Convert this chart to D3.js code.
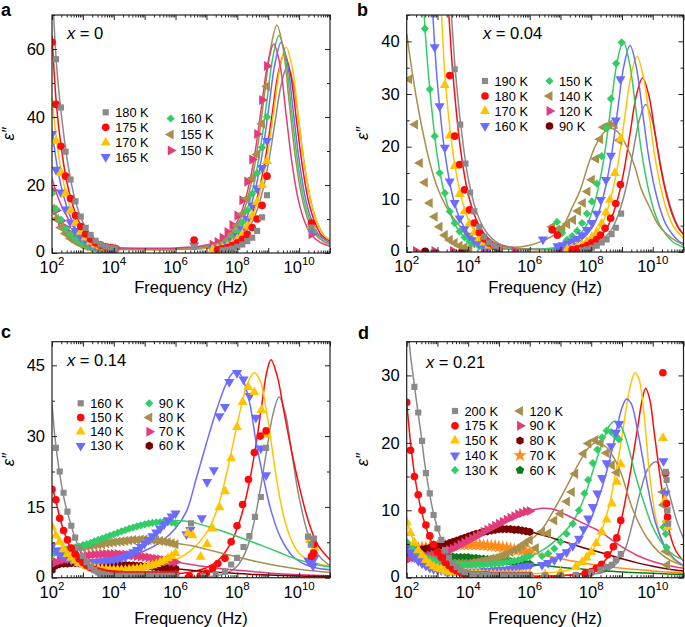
<!DOCTYPE html>
<html><head><meta charset="utf-8">
<script src="https://cdn.jsdelivr.net/npm/d3@7"></script>
<style>
body{margin:0;background:#fff;}
svg text{font-family:"Liberation Sans",Arial,Helvetica,sans-serif;fill:#000;}
</style></head>
<body>
<svg id="chart" width="685" height="627"></svg>
<script>
// ======================= DATA (frequencies are log10(f / Hz)) =======================
const xTickExps = [2, 4, 6, 8, 10];

// ---------- panel a : x = 0 ----------
const aLabels = ["180 K","175 K","170 K","165 K","160 K","155 K","150 K"];
const aYTicks = [0, 20, 40, 60];
const aFreq = [2.0,2.13,2.29,2.44,2.6,2.76,2.93,3.09,3.25,3.41,3.57,3.73,3.9,4.05, 6.6,
               7.2,7.36,7.52,7.68,7.84,8.0,8.16,8.32,8.48,8.64,8.8,8.96, 10.4];
const aPoints = [
  [null,57,42.8,29.8,21.6,15.2,10.7,7.4,5.3,3.6,2.5,1.9,1.5,1.3, 1.8, null,null,0.8,1.0,1.3,1.8,2.5,3.5,4.5,6.5,10.5,17, 7.5],
  [62,43.7,31.4,22.6,16,11,7.8,5.6,4.1,3.0,2.3,1.8,1.5,1.3, 3.8, null,0.9,1.2,1.6,2.2,3.0,4.0,5.5,7.5,10,14,22.6, 8.8],
  [44,33,23.6,17.5,12.5,8.8,6.2,4.5,3.3,2.5,2.0,1.6,1.4,1.2, null, 1.0,1.2,1.5,2.0,2.8,4.0,5.5,8.0,11,15,20,27, 8],
  [35,24.5,17.8,12.8,9.0,6.5,4.7,3.5,2.7,2.1,1.7,1.4,1.2,1.1, 2.2, 1.3,1.5,1.9,2.5,3.5,5.0,7.0,10,14,19,25,33, 7],
  [17.5,13,9.8,7.3,5.5,4.1,3.1,2.4,1.9,1.6,1.3,1.1,1.0,0.9, null, 1.3,1.6,2.2,3.0,4.3,6.2,9,12.5,17.5,23.5,31,40, 6.5],
  [13,10,7.5,5.7,4.3,3.3,2.5,1.9,1.5,1.2,1.0,0.9,0.8,0.8, null, 1.4,1.9,2.7,3.8,5.5,8,11.5,16,22,29,38,49, 7.5],
  [18.5,12.5,9.5,7.5,5.8,4.5,3.5,2.8,2.3,1.9,1.7,1.5,1.4,1.3, null, 2.4,3.2,4.5,6.2,8.2,11,15.5,21,27.5,35,45,55, 5.5]
];
const aCurves = [
  [[2,80],[2.15,55],[2.3,41],[2.5,27],[2.75,15.5],[3,9],[3.25,5.3],[3.5,3.2],[4,1.6],[5,1.2],[6,1.2],[7.12,1.5],[7.62,2.2],[8.02,3.9],[8.42,8.1],[8.62,12.1],[8.82,18.3],[9.02,27.1],[9.22,38.4],[9.42,49.5],[9.62,55],[9.82,49.5],[10.02,36.3],[10.22,23.1],[10.42,13.8],[10.62,8.3],[10.82,5],[11,3.8]],
  [[2,64],[2.15,43],[2.3,31],[2.5,20],[2.75,12],[3,7],[3.25,4.2],[3.5,2.6],[4,1.4],[5,1.1],[6,1.1],[7.02,1.5],[7.52,2.3],[7.92,4],[8.32,8.4],[8.52,12.6],[8.72,19.1],[8.92,28.5],[9.12,40.4],[9.32,52.7],[9.52,58.5],[9.72,52.7],[9.92,38.6],[10.12,24.6],[10.32,14.6],[10.52,8.8],[10.72,5.3],[11,3.5]],
  [[2,46],[2.15,33],[2.3,24],[2.5,16],[2.75,9.5],[3,5.5],[3.25,3.4],[3.5,2.2],[4,1.3],[5,1.0],[6,1.0],[7.08,1.5],[7.58,2.3],[7.98,4.1],[8.38,8.6],[8.58,13],[8.78,19.8],[8.98,29.4],[9.18,41.7],[9.38,54.5],[9.58,60.5],[9.78,54.5],[9.98,39.9],[10.18,25.4],[10.38,15.1],[10.58,9.1],[10.78,5.4],[11,3.8]],
  [[2,36],[2.15,26.5],[2.3,19.5],[2.5,13],[2.75,7.5],[3,4.5],[3.25,2.9],[3.5,2],[4,1.3],[5,1.1],[6,1.1],[6.92,1.6],[7.42,2.4],[7.82,4.3],[8.22,8.8],[8.42,13.3],[8.62,20.2],[8.82,29.9],[9.02,42.8],[9.22,55.8],[9.42,62],[9.62,55.8],[9.82,40.9],[10.02,26],[10.22,15.5],[10.42,9.3],[10.62,5.6],[11,3]],
  [[2,14],[2.15,11],[2.3,8.5],[2.5,6],[2.75,3.8],[3,2.5],[3.25,1.8],[3.5,1.4],[4,1.1],[5,1],[6,1.1],[6.85,1.6],[7.35,2.5],[7.75,4.4],[8.15,9.1],[8.35,13.7],[8.55,20.8],[8.75,31],[8.95,44.2],[9.15,57.6],[9.35,64],[9.55,57.6],[9.75,42.2],[9.95,26.9],[10.15,16],[10.35,9.6],[10.55,5.8],[10.85,3.2],[11,2.8]],
  [[2,13],[2.15,10.5],[2.3,8.5],[2.5,6.5],[2.75,4.4],[3,3],[3.25,2.2],[3.5,1.7],[4,1.2],[5,1],[6,1.1],[6.78,1.7],[7.28,2.6],[7.68,4.6],[8.08,9.6],[8.28,14.3],[8.48,21.8],[8.68,32.5],[8.88,46.7],[9.08,60.3],[9.28,67],[9.48,60.3],[9.68,44.2],[9.88,28.1],[10.08,16.8],[10.28,10],[10.48,6],[10.78,3.4],[11,2.6]],
  [[2,22],[2.15,17.5],[2.3,14],[2.5,10.5],[2.75,7],[3,4.5],[3.25,3],[3.5,2.2],[4,1.6],[5,1.4],[6,1.5],[6.68,1.9],[7.18,2.7],[7.58,4.4],[7.98,8.9],[8.18,13.3],[8.38,20.1],[8.58,29.9],[8.78,42.9],[8.98,55.4],[9.18,61.5],[9.38,55.4],[9.58,40.6],[9.78,25.8],[9.98,15.4],[10.18,9.2],[10.38,5.5],[10.68,3.1],[11,2]]
];

// ---------- panel b : x = 0.04 ----------
const bLabels = ["190 K","180 K","170 K","160 K","150 K","140 K","120 K","90 K"];
const bYTicks = [0, 10, 20, 30, 40];
const bPoints = [
  [[3.56,34.7],[3.74,24.2],[3.91,16.8],[4.06,11.3],[4.2,7.7],[4.36,4.8],[4.52,2.9],[4.68,1.8],[4.84,1.2],[5.0,0.8],[7.7,0.3],[7.86,0.5],[8.02,0.8],[8.18,1.2],[8.34,1.8],[8.5,2.4],[8.66,3.4],[8.8,4.6],[8.97,7.3]],
  [[3.4,33.5],[3.56,22],[3.72,16.6],[3.88,11.8],[4.04,8],[4.2,5.5],[4.36,3.7],[4.52,2.5],[4.68,1.7],[4.84,1.1],[5.0,0.7],[6.73,4.2],[6.9,3.2],[7.38,0.4],[7.54,0.6],[7.7,0.8],[7.86,1.2],[8.02,1.8],[8.18,2.4],[8.3,3.2],[8.45,4.5],[8.63,6.4],[8.8,9.2],[8.95,12.8]],
  [[3.24,31.7],[3.4,22.1],[3.56,16.3],[3.72,11],[3.88,7.7],[4.04,5.4],[4.2,3.7],[4.36,2.6],[4.52,1.8],[4.68,1.2],[4.84,0.9],[7.22,0.5],[7.38,0.7],[7.54,1.0],[7.7,1.4],[7.86,2.0],[8.02,2.8],[8.18,3.8],[8.34,5.4],[8.48,7.5],[8.61,9.9],[8.77,15],[8.95,21.5]],
  [[2.91,38.9],[3.07,27.7],[3.24,19.8],[3.4,13.4],[3.56,9.3],[3.72,6.4],[3.88,4.4],[4.04,3.1],[4.2,2.2],[4.36,1.6],[4.52,1.1],[4.68,0.8],[6.43,2.4],[6.9,1.1],[7.06,1.3],[7.22,1.6],[7.38,2.0],[7.54,2.5],[7.7,3.2],[7.86,4.2],[8.02,5.5],[8.18,7.3],[8.31,9.9],[8.48,13.7],[8.64,18.3],[8.8,25],[8.95,32.8]],
  [[2.59,42.4],[2.75,30.9],[2.91,22],[3.07,15],[3.24,11.2],[3.4,7.7],[3.56,5.5],[3.72,3.9],[3.88,2.8],[4.04,2],[4.2,1.5],[4.36,1.1],[4.52,0.8],[6.89,5.7],[7.05,3.6],[7.21,2.3],[7.38,3.0],[7.54,4.0],[7.7,5.5],[7.86,7.3],[8.02,9.6],[8.18,13],[8.34,18.2],[8.5,23.5],[8.64,29.1],[8.81,35.8],[8.99,39.8]],
  [[2.08,32.8],[2.27,24.2],[2.43,16.9],[2.59,13.2],[2.75,9.3],[2.91,6.7],[3.07,4.8],[3.24,3.2],[3.4,2.3],[3.56,1.7],[3.72,1.2],[3.88,0.9],[4.04,0.7],[6.73,4.8],[6.89,4.2],[7.06,4.5],[7.22,5.3],[7.41,6.1],[7.57,7.8],[7.73,9.3],[7.88,11.5],[8.02,13.7],[8.16,17.7],[8.29,21.4],[8.4,23.7],[8.59,24.2],[8.76,24.2],[8.92,21.2]],
  [[2.3,0.2],[2.9,0.2],[3.5,0.2],[4.5,0.2],[5.5,0.2],[7.0,0.3],[7.7,0.2]],
  [[2.6,0.12],[3.8,0.12],[5.0,0.12],[7.3,0.12]]
];
const bCurves = [
  [[3.4,50],[3.5,41],[3.56,36],[3.75,24.5],[4,14],[4.25,8],[4.5,4.6],[4.75,2.7],[5,1.6],[5.5,0.8],[6,0.5],[6.5,0.45],[7.27,0.5],[7.77,0.7],[8.17,1.5],[8.57,3.5],[8.77,5.5],[8.97,8.7],[9.17,13.2],[9.37,19.3],[9.57,25.2],[9.77,28],[9.97,25.2],[10.17,19.3],[10.37,13.2],[10.57,8.7],[10.77,5.5],[11,3.3]],
  [[3.2,57],[3.37,45],[3.5,34],[3.75,19.5],[4,11],[4.25,6.3],[4.5,3.6],[4.75,2.1],[5,1.3],[5.5,0.7],[6,0.5],[6.5,0.5],[7.17,0.5],[7.67,0.8],[8.07,1.8],[8.47,4.2],[8.67,6.6],[8.87,10.3],[9.07,15.6],[9.27,22.8],[9.47,29.8],[9.67,33.1],[9.87,29.8],[10.07,22.8],[10.27,15.6],[10.47,10.3],[10.67,6.6],[10.87,4.2],[11,3.4]],
  [[3,55],[3.13,45],[3.25,33],[3.5,19],[3.75,11],[4,6.2],[4.25,3.6],[4.5,2.1],[4.75,1.3],[5.25,0.7],[5.75,0.5],[6.25,0.5],[6.99,0.55],[7.49,0.9],[7.89,2],[8.29,4.7],[8.49,7.3],[8.69,11.5],[8.89,17.4],[9.09,25.6],[9.29,33.4],[9.49,37.1],[9.69,33.4],[9.89,25.6],[10.09,17.4],[10.29,11.5],[10.49,7.3],[10.69,4.7],[11,2.6]],
  [[2.75,55],[2.85,45],[3,32],[3.25,18.5],[3.5,10.5],[3.75,6],[4,3.5],[4.25,2.1],[4.5,1.3],[5,0.7],[5.5,0.5],[6,0.5],[6.76,0.6],[7.26,1.0],[7.66,2.2],[8.06,4.9],[8.26,7.8],[8.46,12.2],[8.66,18.4],[8.86,27],[9.06,35.3],[9.26,39.2],[9.46,35.3],[9.66,27],[9.86,18.4],[10.06,12.2],[10.26,7.8],[10.46,4.9],[10.86,2],[11,1.6]],
  [[2.5,53],[2.6,42],[2.75,31],[3,18],[3.25,10.5],[3.5,6.1],[3.75,3.6],[4,2.2],[4.5,1.0],[5,0.6],[5.5,0.5],[6,0.5],[6.54,0.64],[7.04,1.1],[7.44,2.2],[7.84,5],[8.04,7.9],[8.24,12.4],[8.44,18.8],[8.64,27.6],[8.84,36],[9.04,40],[9.24,36],[9.44,27.6],[9.64,18.8],[9.84,12.4],[10.04,7.9],[10.24,5],[10.64,2],[11,0.9]],
  [[2,41.4],[2.25,31.5],[2.5,23.5],[2.75,17],[3,12.2],[3.25,9],[3.5,6.6],[3.75,4.8],[4,3.4],[4.25,2.5],[4.5,1.8],[5,1.1],[5.5,0.9],[6,1.3],[6.5,2.3],[7,4.2],[7.4,8.7],[7.64,11.75],[7.9,16.5],[8.14,20.2],[8.4,22.6],[8.64,23.5],[8.9,22.6],[9.14,20.2],[9.4,16.5],[9.64,11.75],[9.9,8.5],[10.2,5],[10.6,2.7],[11,1.3]],
  [],
  []
];

// ---------- panel c : x = 0.14 ----------
const cLabels = ["160 K","150 K","140 K","130 K","90 K","80 K","70 K","60 K"];
const cYTicks = [0, 15, 30, 45];
const cDenseFreq = [2,2.125,2.25,2.375,2.5,2.625,2.75,2.875,3,3.125,3.25,3.375,3.5,3.625,3.75,3.875,4,4.125,4.25,4.375,4.5,4.625,4.75,4.875,5,5.125,5.25,5.375,5.5,5.625,5.75,5.875,6];
const cDense = [
  [null,27.5,22.5,18,14,11,8.5,6.3,4.6,3.3,2.3,1.6,1.1,0.8,0.6,0.5,0.4,0.4,0.4,0.4,0.4,0.4,0.4,0.4,0.4,0.4,0.4,0.4,0.4,0.4,0.4,0.4,0.4],
  [18.7,16.5,12.6,10,8,6.3,5,4,3.2,2.6,2.1,1.7,1.4,1.2,1.0,0.9,0.8,0.7,0.7,0.6,0.6,0.6,0.6,0.6,0.6,0.6,0.6,0.6,0.6,0.7,0.7,0.7,0.8],
  [10.8,8.9,7.6,6.0,5.0,4.2,3.6,3.1,2.7,2.4,2.2,2.0,1.9,1.8,1.7,1.6,1.6,1.6,1.6,1.6,1.7,1.8,1.9,2.0,2.2,2.4,2.6,2.9,3.2,3.6,4.1,4.6,5.2],
  [6.8,5.8,5.0,4.5,4.1,3.8,3.6,3.5,3.4,3.3,3.3,3.3,3.4,3.5,3.6,3.7,3.8,4.0,4.2,4.4,5.0,5.4,5.9,6.5,7.2,8.0,8.8,9.6,10.4,11.3,12.2,13.0,13.6],
  [5.2,5.4,5.6,5.8,6.0,6.2,6.4,6.6,6.9,7.1,7.4,7.7,8.0,8.3,8.6,8.9,9.2,9.5,9.8,10.1,10.4,10.6,10.9,11.1,11.3,11.5,11.6,11.7,11.8,11.9,11.8,11.7,11.5],
  [5.4,5.5,5.6,5.8,5.9,6.0,6.2,6.3,6.4,6.6,6.7,6.9,7.0,7.1,7.3,7.4,7.5,7.6,7.7,7.8,7.9,8.0,8.0,8.1,8.1,8.0,8.0,7.9,7.8,7.7,7.5,7.3,7.1],
  [3.0,3.3,3.6,3.8,4.0,4.2,4.4,4.5,4.6,4.7,4.8,4.9,4.9,5.0,5.0,5.0,5.0,5.0,4.9,4.9,4.8,4.7,4.6,4.5,4.4,4.3,4.1,4.0,3.9,3.7,3.6,3.4,3.3],
  [1.6,2.6,2.9,3.0,3.0,3.1,3.1,3.1,3.1,3.1,3.0,3.0,3.0,2.9,2.9,2.9,2.8,2.8,2.7,2.7,2.6,2.6,2.5,2.5,2.4,2.4,2.3,2.2,2.2,2.1,2.0,2.0,1.9]
];
const cHigh = [
  [[6.5,11.5],[6.9,0.3],[7.3,0.6],[7.6,1.3],[7.8,2.8],[7.99,4.2],[8.2,6.5],[8.39,8.8],[8.57,12.9],[8.76,17.1],[8.93,27.5],[10.29,8.7],[10.38,7.0],[10.48,8.3]],
  [[6.45,0.3],[6.8,0.4],[7.0,1.0],[7.2,2.0],[7.37,3.0],[7.6,4.1],[7.8,7.6],[7.99,11],[8.17,15.5],[8.36,20.8],[8.55,26.5],[8.74,30],[8.93,31.1],[10.4,4.5],[10.47,5.2],[10.48,7.1]],
  [[6.4,9.4],[6.55,9.0],[6.81,4.4],[7.02,7.1],[7.2,10.4],[7.42,14.9],[7.6,18.3],[7.8,25.3],[7.99,31.9],[8.17,37.2],[8.35,40.4],[8.55,39.3],[8.78,35.5],[8.96,30.3],[10.35,8],[10.45,5.5],[10.5,6.3]],
  [[6.35,9.2],[6.48,10.1],[6.85,12.6],[7.02,20.3],[7.24,22.8],[7.42,34.2],[7.6,36.2],[7.74,41.5],[7.99,43.4],[8.2,42],[8.4,38.5],[8.6,33.9],[8.76,27.4],[8.93,21.7],[10.3,3.6],[10.38,3.4],[10.45,2.5],[10.5,4.2]],
  [],[],[],[]
];
const cCurves = [
  [[2,37],[2.1,29.5],[2.25,22],[2.4,16.5],[2.6,11.5],[2.8,7.5],[3,4.5],[3.2,2.5],[3.5,1.0],[4,0.3],[5,0.1],[6,0.1],[7,0.2],[7.6,0.8],[8,2.5],[8.3,6],[8.55,12],[8.75,19],[8.95,27],[9.15,34.5],[9.35,38.3],[9.55,35],[9.75,27],[10,17],[10.3,9],[10.6,5],[11,2.5]],
  [[2,19],[2.1,17],[2.25,12.8],[2.4,9.5],[2.6,6.3],[2.8,4.2],[3,2.8],[3.3,1.6],[3.6,1.0],[4,0.7],[5,0.6],[6,0.8],[6.5,1.2],[7,2.1],[7.4,3.8],[7.8,7.5],[8.1,12.5],[8.35,19],[8.6,28],[8.8,37],[8.95,43.5],[9.09,46.2],[9.3,42.5],[9.5,35.5],[9.75,27],[10,19.5],[10.3,12],[10.6,7],[11,3.8]],
  [[2,11],[2.1,9.5],[2.25,7.5],[2.5,5.3],[2.75,3.8],[3,2.8],[3.5,1.9],[4,1.6],[4.5,1.6],[5,1.9],[5.5,2.6],[6,3.8],[6.5,5.8],[7,9.5],[7.35,14.5],[7.64,21.7],[7.9,29.5],[8.15,37],[8.35,41.5],[8.55,43.4],[8.75,41.5],[8.95,35],[9.1,28.5],[9.25,21.7],[9.5,13],[9.75,8],[10,5.2],[10.5,3.2],[11,2.5]],
  [[2,7],[2.25,5],[2.5,4],[2.75,3.5],[3,3.3],[3.5,3.4],[4,3.8],[4.5,4.5],[5,5.7],[5.5,7.5],[6,10.5],[6.35,14],[6.67,21],[7,28.5],[7.3,35],[7.6,40.5],[7.8,43],[7.96,43.8],[8.15,42.5],[8.4,37],[8.6,29],[8.82,21.9],[9.1,14],[9.4,8.5],[9.8,4.5],[10.2,2.8],[10.6,2],[11,1.7]],
  [[2,5.5],[2.5,6.2],[3,7],[3.5,8.2],[4,9.3],[4.5,10.4],[5,11.3],[5.5,11.9],[5.9,12.1],[6.3,12],[6.8,11.3],[7.3,10.3],[7.8,9.2],[8.3,8],[8.8,6.8],[9.3,5.5],[9.8,4.2],[10.3,3.2],[10.7,2.6],[11,2.3]],
  [[2,5.2],[2.5,5.7],[3,6.3],[3.5,6.9],[4,7.4],[4.5,7.8],[5,8.0],[5.5,7.8],[6,7.3],[6.5,6.8],[7,6.0],[7.5,5.2],[8,4.4],[8.5,3.6],[9,2.9],[9.5,2.3],[10,1.8],[10.5,1.4],[11,1.1]],
  [[2,3.3],[2.5,4.0],[3,4.5],[3.5,4.9],[4,5.0],[4.5,4.9],[5,4.6],[5.5,4.1],[6,3.4],[6.5,2.8],[7,2.3],[7.5,1.9],[8,1.6],[8.5,1.3],[9,1.0],[9.5,0.8],[10,0.65],[10.5,0.5],[11,0.4]],
  [[2,2.7],[2.5,3.0],[3,3.1],[3.5,3.0],[4,2.9],[4.5,2.7],[5,2.5],[5.5,2.2],[6,1.9],[6.5,1.6],[7,1.3],[7.5,1.1],[8,0.9],[8.5,0.7],[9,0.55],[9.5,0.45],[10,0.35],[10.5,0.3],[11,0.25]]
];

// ---------- panel d : x = 0.21 ----------
const dLabels = ["200 K","175 K","150 K","140 K","130 K","120 K","90 K","80 K","70 K","60 K"];
const dYTicks = [0, 10, 20, 30];
const dDenseFreq = cDenseFreq;
const dDense = [
  [null,null,28.3,24.5,20.3,15.5,12.5,9.3,7.3,5.6,4.1,3.0,2.2,1.6,1.1,0.8,0.6,0.4,0.4,0.4,0.4,0.4,0.3,0.3,0.3,0.3,0.3,0.3,0.3,0.3,0.3,0.3,0.3],
  [26,18.9,15,12.3,10,7.8,6.2,4.9,3.8,3.0,2.3,1.8,1.3,1.0,0.8,0.6,0.5,0.4,0.4,0.4,0.4,0.4,0.3,0.3,0.3,0.3,0.3,0.3,0.3,0.3,0.3,0.3,0.3],
  [8.2,6.6,5.2,4.1,3.3,2.6,2.1,1.7,1.4,1.2,1.0,0.9,0.8,0.7,0.7,0.6,0.6,0.6,0.6,0.6,0.5,0.5,0.5,0.5,0.5,0.5,0.5,0.5,0.5,0.5,0.5,0.5,0.5],
  [4.6,3.7,3.0,2.5,2.1,1.8,1.5,1.3,1.2,1.1,1.0,0.9,0.9,0.9,0.9,0.9,0.9,0.9,0.9,0.9,1.0,1.0,1.0,1.1,1.1,1.2,1.2,1.3,1.4,1.5,1.6,1.7,1.8],
  [5.3,4.6,4.1,3.7,3.3,3.0,2.8,2.6,2.4,2.3,2.2,2.1,2.0,2.0,1.9,1.9,1.9,1.9,1.9,1.9,1.9,2.0,2.0,2.1,2.1,2.2,2.3,2.4,2.5,2.6,2.8,3.0,3.2],
  [4.4,3.8,3.4,3.1,2.9,2.7,2.6,2.5,2.4,2.3,2.2,2.2,2.1,2.1,2.1,2.1,2.1,2.2,2.3,2.4,2.5,2.6,2.8,2.9,3.1,3.3,3.5,3.8,4.1,4.4,4.8,5.2,5.6],
  [2.8,2.9,3.0,3.0,3.1,3.2,3.3,3.4,3.5,3.7,3.9,4.1,4.3,4.6,4.9,5.2,5.5,5.8,6.1,6.4,6.8,7.1,7.4,7.7,8.0,8.3,8.6,8.9,9.1,9.4,9.6,9.8,9.9],
  [2.8,3.8,4.0,4.1,4.2,4.3,4.4,4.5,4.6,4.8,4.9,5.1,5.3,5.5,5.7,5.9,6.1,6.3,6.5,6.6,6.8,6.9,7.0,7.1,7.2,7.2,7.2,7.2,7.1,7.1,7.0,6.9,6.8],
  [4.3,4.3,4.4,4.4,4.5,4.5,4.6,4.6,4.7,4.7,4.8,4.8,4.8,4.9,4.9,4.9,4.9,4.9,4.9,4.9,4.8,4.8,4.7,4.7,4.6,4.5,4.4,4.3,4.2,4.1,4.0,3.9,3.8],
  [3.6,3.5,3.4,3.4,3.3,3.3,3.2,3.2,3.2,3.1,3.1,3.1,3.1,3.0,3.0,3.0,3.0,2.9,2.9,2.8,2.8,2.7,2.7,2.6,2.6,2.5,2.4,2.4,2.3,2.2,2.2,2.1,2.0]
];
const dHigh = [
  [[6.5,0.3],[7,0.3],[7.5,0.4],[8.0,0.8],[8.3,1.2],[8.5,1.6],[8.67,1.9],[8.8,2.6],[8.96,3.5],[10.42,15.7],[10.45,14.5],[10.48,10],[10.5,8]],
  [[6.5,0.2],[7.0,0.2],[7.5,0.3],[7.8,0.6],[8.0,0.9],[8.16,1.4],[8.34,2.0],[8.53,3.4],[8.72,4.6],[8.83,5.9],[8.96,8.5],[10.33,30.4],[10.42,15.5],[10.45,11],[10.48,9]],
  [[6.5,0.5],[7.0,0.8],[7.5,1.6],[7.7,2.3],[7.85,3.0],[8.0,3.8],[8.16,5.1],[8.34,6.8],[8.5,8.6],[8.67,11],[8.83,14.2],[8.96,16.8],[10.33,20.7],[10.4,11.5],[10.45,8.5],[10.48,7.5]],
  [[6.4,1.9],[6.6,2.2],[6.8,2.6],[7.0,3.2],[7.2,3.8],[7.4,4.7],[7.6,5.8],[7.75,7.2],[7.9,8.8],[8.05,10.5],[8.2,12.5],[8.35,14.8],[8.5,17],[8.65,19.5],[8.8,21.5],[8.9,22.8],[10.35,17.3],[10.42,12.5],[10.45,8]],
  [[6.4,3.2],[6.6,3.6],[6.8,4.3],[7.0,5.3],[7.2,6.5],[7.4,8.0],[7.6,10],[7.78,12.5],[7.9,14.5],[8.05,17],[8.2,19],[8.35,20.8],[8.5,21.8],[8.65,21.6],[8.8,21],[8.9,20.5],[10.35,7.5],[10.42,6.5],[10.45,4.5]],
  [[6.2,4.4],[6.4,6.8],[6.6,6.6],[6.8,8.5],[7.0,9.5],[7.21,11.3],[7.37,12.7],[7.48,15.4],[7.75,18.4],[7.91,19.9],[8.13,20.4],[8.3,20],[8.5,18.5],[8.67,16.7],[8.83,15.6],[10.33,12.7],[10.35,10.8],[10.44,3.9],[10.47,1.9]],
  [],[],[],[]
];
const dCurves = [
  [[2,40],[2.1,34],[2.25,28.5],[2.45,21.8],[2.6,16.5],[2.75,12.3],[2.9,9],[3.1,6],[3.3,3.8],[3.5,2.3],[3.75,1.2],[4,0.6],[4.5,0.3],[5,0.2],[6,0.2],[7,0.3],[7.8,0.5],[8.4,0.8],[8.8,2.0],[9.1,4.2],[9.37,8.6],[9.6,12.8],[9.85,16.2],[10.12,17.2],[10.4,14.5],[10.77,8.6],[11,5.8]],
  [[2,26],[2.15,19],[2.3,14],[2.5,9.5],[2.75,5.9],[3,3.6],[3.25,2.2],[3.5,1.3],[4,0.5],[5,0.2],[6,0.2],[7,0.3],[7.5,0.5],[8,1],[8.5,2.8],[8.8,5.5],[9.0,9],[9.25,15],[9.5,22],[9.65,26.2],[9.77,28.1],[9.9,26.5],[10.05,21.5],[10.27,14],[10.5,7.5],[10.75,4],[11,2.5]],
  [[2,8.5],[2.15,6.3],[2.3,4.7],[2.5,3.2],[2.75,2],[3,1.3],[3.5,0.8],[4,0.6],[5,0.5],[6,0.6],[7,0.9],[7.5,1.5],[7.9,3.0],[8.3,6.5],[8.6,11],[8.77,15],[8.95,19.5],[9.15,25.5],[9.3,29],[9.42,30.4],[9.55,29.5],[9.7,25],[9.9,15.2],[10.1,8.8],[10.3,5.5],[10.6,3],[11,1.7]],
  [[2,5],[2.2,3.5],[2.5,2.2],[2.75,1.5],[3,1.1],[3.5,0.8],[4,0.8],[5,1.0],[6,1.6],[6.5,2.3],[7,3.4],[7.5,5.2],[7.9,7.8],[8.34,13.2],[8.6,17.5],[8.85,22.5],[9.0,25.2],[9.15,26.5],[9.3,25.8],[9.5,22],[9.85,13.2],[10.1,8],[10.4,4.6],[10.7,2.8],[11,1.8]],
  [[2,5.5],[2.2,4.3],[2.5,3.3],[2.75,2.7],[3,2.3],[3.5,1.9],[4,1.8],[4.5,1.8],[5,2.0],[5.5,2.4],[6,3.1],[6.5,4.3],[7,6.2],[7.4,8.3],[7.75,11.6],[8.1,16.5],[8.4,20.5],[8.6,22.6],[8.77,23.2],[8.95,22.6],[9.2,19.5],[9.45,15],[9.68,11.6],[10,7.5],[10.4,4.5],[10.7,3.3],[11,2.6]],
  [[2,4.5],[2.25,3.6],[2.5,3.0],[3,2.4],[3.5,2.1],[4,2.1],[4.5,2.4],[5,3.0],[5.5,4.0],[6,5.5],[6.4,7.2],[6.78,10],[7.2,13.5],[7.6,17],[7.9,19.2],[8.18,20.1],[8.5,19.3],[8.9,16.3],[9.36,10],[9.8,6],[10.2,3.8],[10.6,2.5],[11,1.8]],
  [[2,2.8],[2.5,3.0],[3,3.4],[3.5,4.3],[4,5.5],[4.5,6.8],[5,8.1],[5.5,9.1],[6,9.9],[6.4,10.3],[6.8,10.1],[7.2,9.3],[7.6,8.4],[8,7.5],[8.3,6.8],[8.7,5.5],[9.1,4.3],[9.5,3.3],[10,2.4],[10.5,1.8],[11,1.4]],
  [[2,3.6],[2.5,4.1],[3,4.6],[3.5,5.3],[4,6.1],[4.5,6.8],[5,7.2],[5.5,7.2],[6,6.8],[6.5,6.2],[7,5.5],[7.5,4.8],[8,4.1],[8.5,3.5],[9,2.8],[9.5,2.2],[10,1.7],[10.5,1.3],[11,1.0]],
  [[2,4.3],[2.5,4.4],[3,4.6],[3.5,4.8],[4,4.9],[4.5,4.9],[5,4.7],[5.5,4.3],[6,3.8],[6.5,3.3],[7,2.8],[7.5,2.4],[8,2.0],[8.5,1.7],[9,1.4],[9.5,1.2],[10,1.0],[10.5,0.85],[11,0.7]],
  [[2,3.9],[2.5,3.4],[3,3.2],[3.5,3.1],[4,3.0],[4.5,2.8],[5,2.6],[5.5,2.3],[6,2.0],[6.5,1.8],[7,1.55],[7.5,1.35],[8,1.15],[8.5,1.0],[9,0.85],[9.5,0.75],[10,0.65],[10.5,0.55],[11,0.5]]
];

// ======================= STYLES =======================
const COL = {gray:"#8a8a8a", red:"#ff0a0a", yellow:"#ffc400", blue:"#6b6bff", green:"#33cc66",
             olive:"#a88f4c", pink:"#e23c7c", darkred:"#7a0000", orange:"#ff8c1a", dkgreen:"#0d7a1a"};
const aStyle = [["gray","square"],["red","circle"],["yellow","up"],["blue","down"],["green","diamond"],["olive","left"],["pink","right"]];
const bStyle = [["gray","square"],["red","circle"],["yellow","up"],["blue","down"],["green","diamond"],["olive","left"],["pink","right"],["darkred","circle"]];
const cStyle = [["gray","square"],["red","circle"],["yellow","up"],["blue","down"],["green","diamond"],["olive","left"],["pink","right"],["darkred","hexagon"]];
const dStyle = [["gray","square"],["red","circle"],["yellow","up"],["blue","down"],["green","diamond"],["olive","left"],["pink","right"],["darkred","hexagon"],["orange","star"],["dkgreen","pentagon"]];

function polySym(n) {
  return { draw(ctx, size) {
    const r = Math.sqrt(size / (0.5 * n * Math.sin(2 * Math.PI / n)));
    for (let i = 0; i < n; i++) {
      const a = i * 2 * Math.PI / n;
      const px = r * Math.sin(a), py = -r * Math.cos(a);
      if (i) ctx.lineTo(px, py); else ctx.moveTo(px, py);
    }
    ctx.closePath();
  }};
}
const SHAPE = {
  square:[d3.symbolSquare,38,0], circle:[d3.symbolCircle,46,0],
  up:[d3.symbolTriangle,44,0], down:[d3.symbolTriangle,44,180],
  left:[d3.symbolTriangle,44,-90], right:[d3.symbolTriangle,44,90],
  diamond:[d3.symbolSquare,34,45], star:[d3.symbolStar,58,0],
  pentagon:[polySym(5),46,0], hexagon:[polySym(6),46,0]
};

// helpers to turn the arrays into [log f, value] pairs
const gridPairs = (freq, vals) => freq.map((f, i) => [f, vals[i]]).filter(p => p[1] != null);

const panels = [
  {id:"a", box:[52,330,15,253], yMax:70, yTicks:aYTicks, yStep:10, labels:aLabels, style:aStyle,
   curves:aCurves, points:aPoints.map(v => gridPairs(aFreq, v)), tag:"0", tagPos:[67,39],
   letterPos:[0,16], tickDy:19.5, labDy:40, ylabX:14, legend:{cols:[[105.7,[112.3,127.3,142.5,157]],[170.7,[118.5,134.5,150.5]]]}},
  {id:"b", box:[406.7,683.5,15,252], yMax:45, yTicks:bYTicks, yStep:5, labels:bLabels, style:bStyle,
   curves:bCurves, points:bPoints, tag:"0.04", tagPos:[483,39],
   letterPos:[356,16], tickDy:19.5, labDy:40.5, ylabX:368, legend:{cols:[[485,[81,96,111,126]],[549.5,[81,96,111,126]]]}},
  {id:"c", box:[52,330,341.7,577.7], yMax:50, yTicks:cYTicks, yStep:7.5, labels:cLabels, style:cStyle,
   curves:cCurves, points:cDense.map((v,i) => gridPairs(cDenseFreq, v).concat(cHigh[i])), tag:"0.14", tagPos:[67,365.5],
   letterPos:[0,338], tickDy:20.5, labDy:46, ylabX:14, legend:{cols:[[80.7,[403.3,417.5,431.7,445.8]],[149.3,[403.3,417.5,431.7,445.8]]]}},
  {id:"d", box:[406.7,683.5,341.7,577.7], yMax:35, yTicks:dYTicks, yStep:5, labels:dLabels, style:dStyle,
   curves:dCurves, points:dDense.map((v,i) => gridPairs(dDenseFreq, v).concat(dHigh[i])), tag:"0.21", tagPos:[426,367.5],
   letterPos:[357,339], tickDy:20.5, labDy:46.5, ylabX:368, legend:{cols:[[455,[411,425.8,440.6,455.4,470.2]],[520,[411,425.8,440.6,455.4,470.2]]]}}
];

const svg = d3.select("#chart");
const defs = svg.append("defs");

function symPath(shape) {
  const s = SHAPE[shape];
  return d3.symbol().type(s[0]).size(s[1])();
}

panels.forEach(p => {
  const [x0, x1, y0, y1] = p.box;
  const x = d3.scaleLog().domain([1e2, 1e11]).range([x0, x1]);
  const y = d3.scaleLinear().domain([0, p.yMax]).range([y1, y0]);
  const g = svg.append("g");
  const clipId = "clip-" + p.id;
  defs.append("clipPath").attr("id", clipId).append("rect")
    .attr("x", x0).attr("y", y0).attr("width", x1 - x0).attr("height", y1 - y0);

  // curves
  const line = d3.line().x(d => x(Math.pow(10, d[0]))).y(d => y(d[1])).curve(d3.curveCatmullRom.alpha(0.5));
  const plot = g.append("g").attr("clip-path", `url(#${clipId})`);
  p.curves.forEach((c, i) => {
    if (!c.length) return;
    plot.append("path").attr("d", line(c)).attr("fill", "none")
      .attr("stroke", COL[p.style[i][0]]).attr("stroke-width", 1.5);
  });
  // markers (last series first so the first ones sit on top)
  for (let i = p.points.length - 1; i >= 0; i--) {
    const [col, shp] = p.style[i];
    const path = symPath(shp), rot = SHAPE[shp][2];
    plot.append("g").selectAll("path").data(p.points[i]).join("path")
      .attr("d", path).attr("fill", COL[col])
      .attr("transform", d => `translate(${x(Math.pow(10, d[0]))},${y(d[1])}) rotate(${rot})`);
  }

  // axes (ticks pointing inward)
  const decades = d3.range(2, 12).map(e => Math.pow(10, e));
  const minors = [];
  d3.range(2, 11).forEach(e => { for (let k = 2; k <= 9; k++) minors.push(k * Math.pow(10, e)); });
  const yMinor = d3.range(0, p.yMax + 0.001, p.yStep).filter(v => !p.yTicks.includes(v));
  const axes = [
    [d3.axisBottom(x).tickValues(decades).tickSize(-5), `translate(0,${y1})`],
    [d3.axisBottom(x).tickValues(minors).tickSize(-2.5), `translate(0,${y1})`],
    [d3.axisTop(x).tickValues(decades).tickSize(-5), `translate(0,${y0})`],
    [d3.axisTop(x).tickValues(minors).tickSize(-2.5), `translate(0,${y0})`],
    [d3.axisRight(y).tickValues(p.yTicks).tickSize(-5), `translate(${x1},0)`],
    [d3.axisRight(y).tickValues(yMinor).tickSize(-3), `translate(${x1},0)`],
    [d3.axisLeft(y).tickValues(yMinor).tickSize(-3), `translate(${x0},0)`]
  ];
  axes.forEach(([ax, tr]) => {
    const a = g.append("g").attr("transform", tr).call(ax.tickFormat(""));
    a.select(".domain").remove();
    a.selectAll("line").attr("stroke", "#222").attr("stroke-width", 1);
  });
  const left = g.append("g").attr("transform", `translate(${x0},0)`)
    .call(d3.axisLeft(y).tickValues(p.yTicks).tickSize(-5).tickPadding(7).tickFormat(d3.format("d")));
  left.select(".domain").remove();
  left.selectAll("line").attr("stroke", "#222");
  left.selectAll("text").attr("font-size", 16.5).attr("font-family", '"Liberation Sans",Arial,sans-serif').attr("fill", "#000")
    .attr("dy", d => d === 0 ? "0.2em" : "0.32em");

  // frame
  g.append("rect").attr("x", x0).attr("y", y0).attr("width", x1 - x0).attr("height", y1 - y0)
    .attr("fill", "none").attr("stroke", "#222").attr("stroke-width", 1.2);

  // x tick labels 10^n
  xTickExps.forEach(e => {
    const t = g.append("text").attr("x", x(Math.pow(10, e))).attr("y", y1 + p.tickDy)
      .attr("text-anchor", "middle").attr("font-size", 16.5);
    t.append("tspan").text("10");
    t.append("tspan").attr("dy", -8).attr("font-size", 11.5).text(e);
  });
  g.append("text").attr("x", (x0 + x1) / 2).attr("y", y1 + p.labDy).attr("text-anchor", "middle")
    .attr("font-size", 16.5).text("Frequency (Hz)");
  // y label
  g.append("text").attr("transform", `translate(${p.ylabX},${(y0 + y1) / 2}) rotate(-90)`)
    .attr("text-anchor", "middle").attr("font-size", 16.5).attr("font-style", "italic").text("ε″");
  // panel letter
  g.append("text").attr("x", p.letterPos[0] + 1).attr("y", p.letterPos[1]).attr("font-size", 18)
    .attr("font-weight", "bold").text(p.id);
  // composition tag
  const tg = g.append("text").attr("x", p.tagPos[0]).attr("y", p.tagPos[1]).attr("font-size", 16.5);
  tg.append("tspan").attr("font-style", "italic").text("x");
  tg.append("tspan").text(" = " + p.tag);

  // legend
  let k = 0;
  p.legend.cols.forEach(([lx, rows]) => {
    rows.forEach(ly => {
      const i = k++;
      if (i >= p.labels.length) return;
      const [col, shp] = p.style[i];
      g.append("path").attr("d", symPath(shp)).attr("fill", COL[col])
        .attr("transform", `translate(${lx},${ly}) rotate(${SHAPE[shp][2]})`);
      g.append("text").attr("x", lx + 9.5).attr("y", ly + 4.6).attr("font-size", 12.8).text(p.labels[i]);
    });
  });
});
</script>
</body></html>
